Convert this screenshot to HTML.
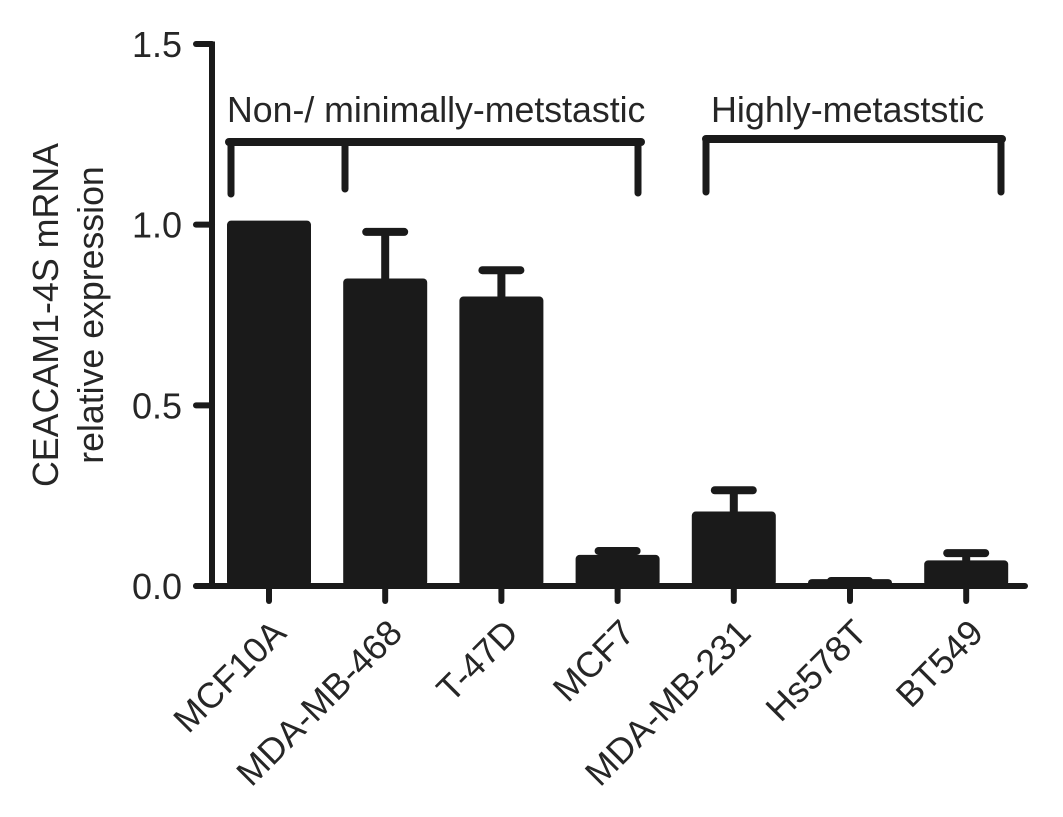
<!DOCTYPE html>
<html>
<head>
<meta charset="utf-8">
<style>
html,body{margin:0;padding:0;background:#fff;}
svg{display:block;}
text{font-family:"Liberation Sans",Arial,sans-serif;fill:#262626;}
</style>
</head>
<body>
<svg id="chart" width="1063" height="817" viewBox="0 0 1063 817" xmlns="http://www.w3.org/2000/svg"></svg>
<script>
const categories = ["MCF10A","MDA-MB-468","T-47D","MCF7","MDA-MB-231","Hs578T","BT549"];
const values = [1.0,0.84,0.79,0.075,0.195,0.008,0.06];
const errors = [0,0.14,0.084,0.022,0.07,0.006,0.031];
const yTicks = [0,0.5,1.0,1.5];
const yTickLabels = ["0.0","0.5","1.0","1.5"];
const yLabelLines = ["CEACAM1-4S mRNA","relative expression"];
const groupLabels = ["Non-/ minimally-metstastic","Highly-metaststic"];

const svg = document.getElementById('chart');
const NS = 'http://www.w3.org/2000/svg';
function y(v){return 586 - v*(586-44)/1.5;}
function x(i){return 269 + i*116.2;}
function make(tag,attrs,parent){
  const e=document.createElementNS(NS,tag);
  for(const k in attrs)e.setAttribute(k,attrs[k]);
  (parent||svg).appendChild(e);
  return e;
}
const ink='#1a1a1a';

values.forEach((v,i)=>{
  const top=y(v), cx=x(i);
  if(errors[i]>0){
    const eTop=y(v+errors[i]);
    const st=make('line',{x1:cx,x2:cx,y1:top,y2:eTop,stroke:ink,'stroke-width':8});
    
    
    const cap=make('line',{x1:cx-19,x2:cx+19,y1:eTop,y2:eTop,stroke:ink,'stroke-width':8,'stroke-linecap':'round'});
    
    
  }
  const b=make('rect',{x:cx-42,y:top-4,width:84,height:586-top+4,fill:ink,rx:4});
  
  
});

const yAxis=make('line',{x1:212,x2:212,y1:41.5,y2:588,stroke:ink,'stroke-width':6});


const xAxis=make('line',{x1:196,x2:1025,y1:586,y2:586,stroke:ink,'stroke-width':6,'stroke-linecap':'round'});



yTicks.forEach((t,i)=>{
  const tk=make('line',{x1:196,x2:212,y1:y(t),y2:y(t),stroke:ink,'stroke-width':6,'stroke-linecap':'round'});
  
  
  const l=make('text',{x:182,y:y(t)+13,'text-anchor':'end','font-size':36});
  l.textContent=yTickLabels[i];
  
  
});

categories.forEach((c,i)=>{
  const tk=make('line',{x1:x(i),x2:x(i),y1:586,y2:601,stroke:ink,'stroke-width':6,'stroke-linecap':'round'});
  
  
  const l=make('text',{transform:`translate(${x(i)+19},${635}) rotate(-45)`,'text-anchor':'end','font-size':35.7});
  l.textContent=c;
  
  
});

const t1=make('text',{transform:'translate(58,315) rotate(-90)','text-anchor':'middle','font-size':35.8});
t1.textContent=yLabelLines[0];


const t2=make('text',{transform:'translate(103,315) rotate(-90)','text-anchor':'middle','font-size':35.7});
t2.textContent=yLabelLines[1];



const g1=make('text',{x:227,y:122,'font-size':35.7});
g1.textContent=groupLabels[0];


const g2=make('text',{x:711,y:122,'font-size':35.9});
g2.textContent=groupLabels[1];



const b1h=make('path',{d:'M229 142H641',fill:'none',stroke:ink,'stroke-width':8,'stroke-linecap':'round'});


const b1v=make('path',{d:'M231 142V194M345 142V189M638 142V193',fill:'none',stroke:ink,'stroke-width':7,'stroke-linecap':'round'});


const b2h=make('path',{d:'M706 139H1002',fill:'none',stroke:ink,'stroke-width':8,'stroke-linecap':'round'});


const b2v=make('path',{d:'M706 139V192M1001 139V192',fill:'none',stroke:ink,'stroke-width':7,'stroke-linecap':'round'});


</script>
</body>
</html>
